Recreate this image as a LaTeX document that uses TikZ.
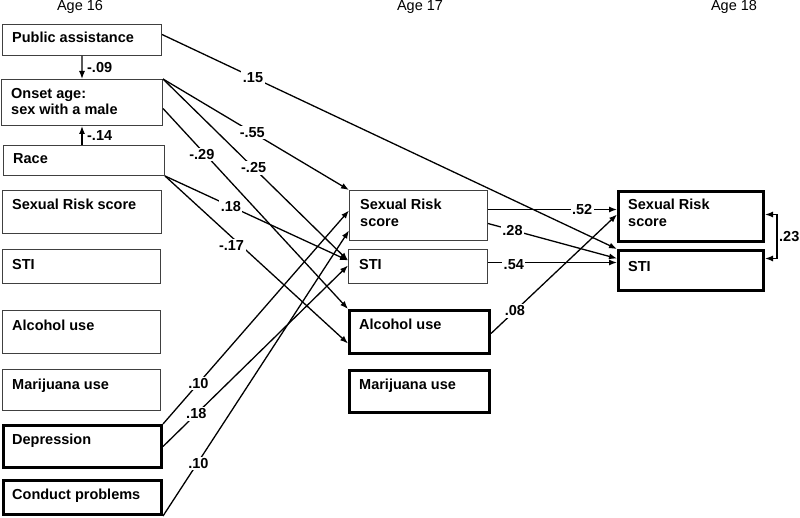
\documentclass[tikz,border=0pt]{standalone}
\usepackage{fontspec}
\setmainfont{Liberation Sans}
\usetikzlibrary{arrows.meta}
\begin{document}
\begin{tikzpicture}[x=1bp,y=-1bp,
  thinbox/.style={draw=black!75, line width=1bp, rectangle, inner sep=0pt, anchor=north west},
  thickbox/.style={draw=black, line width=3bp, rectangle, inner sep=0pt, anchor=north west},
  txt/.style={font=\bfseries\fontsize{14.5bp}{17bp}\selectfont, inner sep=0pt, anchor=base west},
  age/.style={font=\fontsize{14.5bp}{17bp}\selectfont, inner sep=0pt, anchor=base},
  coef/.style={font=\bfseries\fontsize{14.5bp}{17bp}\selectfont, fill=white, inner sep=1.5bp},
  link/.style={line width=1.3bp, draw=black},
  arr/.style={link, -{Latex[length=8bp,width=6bp]}},
  arrb/.style={link, {Latex[length=8bp,width=6bp]}-{Latex[length=8bp,width=6bp]}}
]
\useasboundingbox (0,0) rectangle (800,518);

% age headings
\node[age] (h16) at (80,11) {Age 16};
\node[age] (h17) at (420,11) {Age 17};
\node[age] (h18) at (734,11) {Age 18};

% Age 16 column
\node[thinbox, minimum width=159bp, minimum height=31bp] (pa) at (2,24) {};
\node[thinbox, minimum width=161bp, minimum height=46bp] (on) at (1,79) {};
\node[thinbox, minimum width=161bp, minimum height=30bp] (ra) at (3,145) {};
\node[thinbox, minimum width=159bp, minimum height=43bp] (sr16) at (2,190) {};
\node[thinbox, minimum width=158bp, minimum height=34bp] (st16) at (2,249) {};
\node[thinbox, minimum width=158bp, minimum height=43bp] (al16) at (2,310) {};
\node[thinbox, minimum width=158bp, minimum height=41bp] (ma16) at (2,369) {};
\node[thickbox, minimum width=158bp, minimum height=42bp] (de) at (2,424) {};
\node[thickbox, minimum width=158bp, minimum height=34bp] (cp) at (2,479) {};

\node[txt] (tpa) at ([xshift=10bp,yshift=-19bp]pa.north west) {Public assistance};
\node[txt] (ton1) at ([xshift=10bp,yshift=-20bp]on.north west) {Onset age:};
\node[txt] (ton2) at ([xshift=10bp,yshift=-36bp]on.north west) {sex with a male};
\node[txt] (tra) at ([xshift=10bp,yshift=-19bp]ra.north west) {Race};
\node[txt] (tsr16) at ([xshift=10bp,yshift=-20bp]sr16.north west) {Sexual Risk score};
\node[txt] (tst16) at ([xshift=10bp,yshift=-20bp]st16.north west) {STI};
\node[txt] (tal16) at ([xshift=10bp,yshift=-20bp]al16.north west) {Alcohol use};
\node[txt] (tma16) at ([xshift=10bp,yshift=-20bp]ma16.north west) {Marijuana use};
\node[txt] (tde) at ([xshift=10bp,yshift=-20bp]de.north west) {Depression};
\node[txt] (tcp) at ([xshift=10bp,yshift=-20bp]cp.north west) {Conduct problems};

% Age 17 column
\node[thinbox, minimum width=138bp, minimum height=50bp] (sr17) at (349,190) {};
\node[thinbox, minimum width=139bp, minimum height=34bp] (st17) at (348,249) {};
\node[thickbox, minimum width=140bp, minimum height=43bp] (al17) at (348,309) {};
\node[thickbox, minimum width=140bp, minimum height=42bp] (ma17) at (348,369) {};

\node[txt] (tsr17a) at ([xshift=11bp,yshift=-20bp]sr17.north west) {Sexual Risk};
\node[txt] (tsr17b) at ([xshift=11bp,yshift=-37bp]sr17.north west) {score};
\node[txt] (tst17) at ([xshift=11bp,yshift=-20bp]st17.north west) {STI};
\node[txt] (tal17) at ([xshift=11bp,yshift=-20bp]al17.north west) {Alcohol use};
\node[txt] (tma17) at ([xshift=11bp,yshift=-20bp]ma17.north west) {Marijuana use};

% Age 18 column
\node[thickbox, minimum width=145bp, minimum height=50bp] (sr18) at (617,190) {};
\node[thickbox, minimum width=145bp, minimum height=40bp] (st18) at (617,249) {};

\node[txt] (tsr18a) at ([xshift=11bp,yshift=-20bp]sr18.north west) {Sexual Risk};
\node[txt] (tsr18b) at ([xshift=11bp,yshift=-37bp]sr18.north west) {score};
\node[txt] (tst18) at ([xshift=11bp,yshift=-22bp]st18.north west) {STI};

% vertical arrows in Age 16 column
\draw[arr] (pa.south) -- node[coef, right=3bp, fill=none] {-.09} (on.north);
\draw[arr] (on.south |- ra.north) -- node[coef, right=3bp, fill=none] {-.14} (on.south);

% connectors
\draw[arr] ([yshift=5.5bp]pa.east) -- node[coef, pos=0.2] {.15} (st18.north west);
\draw[arr] (on.north east) -- node[coef, pos=0.48] {-.55} (sr17.north west);
\draw[arr] (on.north east) -- node[coef, pos=0.49] {-.25} ([yshift=6bp]st17.west);
\draw[arr] ([yshift=-6bp]on.east) -- node[coef, pos=0.21, yshift=-4bp] {-.29} (al17.north west);
\draw[arr] (ra.south east) -- node[coef, pos=0.36] {.18} ([yshift=6bp]st17.west);
\draw[arr] (ra.south east) -- node[coef, pos=0.38, xshift=-3bp, yshift=-6bp] {-.17} ([yshift=-11.5bp]al17.west);
\draw[arr] (de.north east) -- node[coef, pos=0.19] {.10} ([yshift=5bp]sr17.west);
\draw[arr] (de.east) -- node[coef, pos=0.18] {.18} ([yshift=1bp]st17.west);
\draw[arr] (cp.south east) -- node[coef, pos=0.19, yshift=-2bp] {.10} ([yshift=-15bp]sr17.west);

\coordinate (s52) at ([yshift=6bp]sr17.east);
\draw[arr] (s52) -- node[coef, pos=0.73] {.52} (s52 -| sr18.west);
\draw[arr] ([yshift=-8bp]sr17.east) -- node[coef, pos=0.19] {.28} ([yshift=12bp]st18.west);
\coordinate (s54) at ([yshift=4bp]st17.east);
\draw[arr] (s54) -- node[coef, pos=0.2, yshift=-2bp] {.54} (s54 -| st18.west);
\draw[arr] ([yshift=-1.5bp]al17.east) -- node[coef, pos=0.19] {.08} ([yshift=2bp]sr18.west);

\coordinate (c23) at ([yshift=2bp,xshift=12bp]sr18.east);
\draw[arrb] ([yshift=2bp]sr18.east) -- (c23) |- node[pos=0.25, right=1bp, coef, fill=none, inner sep=0.5bp] {.23} ([yshift=12bp]st18.east);
\end{tikzpicture}
\end{document}
